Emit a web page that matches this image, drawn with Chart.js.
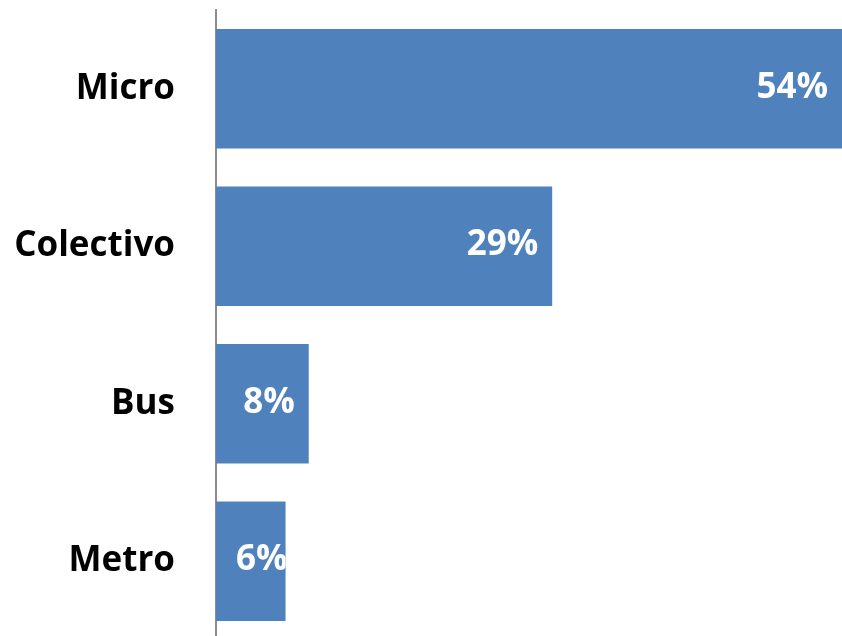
<!DOCTYPE html>
<html lang="es">
<head>
<meta charset="utf-8">
<title>Modo de transporte</title>
<script src="https://cdn.jsdelivr.net/npm/chart.js@4"></script>
<style>
  html, body { margin: 0; padding: 0; background: #fff; overflow: hidden; }
  #wrap { width: 842px; height: 640px; position: relative; }
</style>
</head>
<body>
<div id="wrap"><canvas id="chart"></canvas></div>
<script>
const categories = ['Micro', 'Colectivo', 'Bus', 'Metro'];
const shares = [54, 29, 8, 6];
const shareLabels = ['54%', '29%', '8%', '6%'];

const FONT = "'Open Sans', sans-serif";

// white value labels inside each bar, near its end
const barValueLabels = {
    id: 'barValueLabels',
    afterDatasetsDraw(chart) {
        const ctx = chart.ctx;
        const area = chart.chartArea;
        const meta = chart.getDatasetMeta(0);
        ctx.save();
        ctx.font = 'bold 35px ' + FONT;
        ctx.fillStyle = '#ffffff';
        ctx.textAlign = 'center';
        ctx.textBaseline = 'alphabetic';
        meta.data.forEach((bar, i) => {
            const text = shareLabels[i];
            const w = ctx.measureText(text).width;
            const end = Math.min(bar.x, area.right);
            const cx = Math.max(bar.base + w / 2 + 20, end - w / 2 - 14);
            const h = bar.height;
            ctx.save();
            ctx.beginPath();
            ctx.rect(bar.base, bar.y - h / 2, end - bar.base, h);
            ctx.clip();
            ctx.fillText(text, cx, bar.y + 9);
            ctx.restore();
        });
        ctx.restore();
    }
};

new Chart(document.getElementById('chart'), {
    type: 'bar',
    data: {
        labels: categories,
        datasets: [{
            data: shares,
            backgroundColor: '#4f81bd',
            borderWidth: 0,
            barPercentage: 0.95,
            categoryPercentage: 0.8
        }]
    },
    options: {
        indexAxis: 'y',
        responsive: true,
        maintainAspectRatio: false,
        animation: false,
        layout: { padding: { top: 10, right: 0, bottom: 0, left: 0 } },
        plugins: {
            legend: { display: false },
            tooltip: { enabled: false }
        },
        scales: {
            x: {
                display: false,
                min: 0,
                max: 54
            },
            y: {
                afterFit(scale) {
                    scale.width = 216;
                    scale.paddingTop = 0;
                    scale.paddingBottom = 0;
                },
                grid: { display: false, drawTicks: false },
                border: { display: true, color: '#8c8c8c', width: 2 },
                ticks: {
                    color: '#000000',
                    padding: 41,
                    font: { family: FONT, size: 35, weight: 'bold' }
                }
            }
        }
    },
    plugins: [barValueLabels]
});
</script>
</body>
</html>
